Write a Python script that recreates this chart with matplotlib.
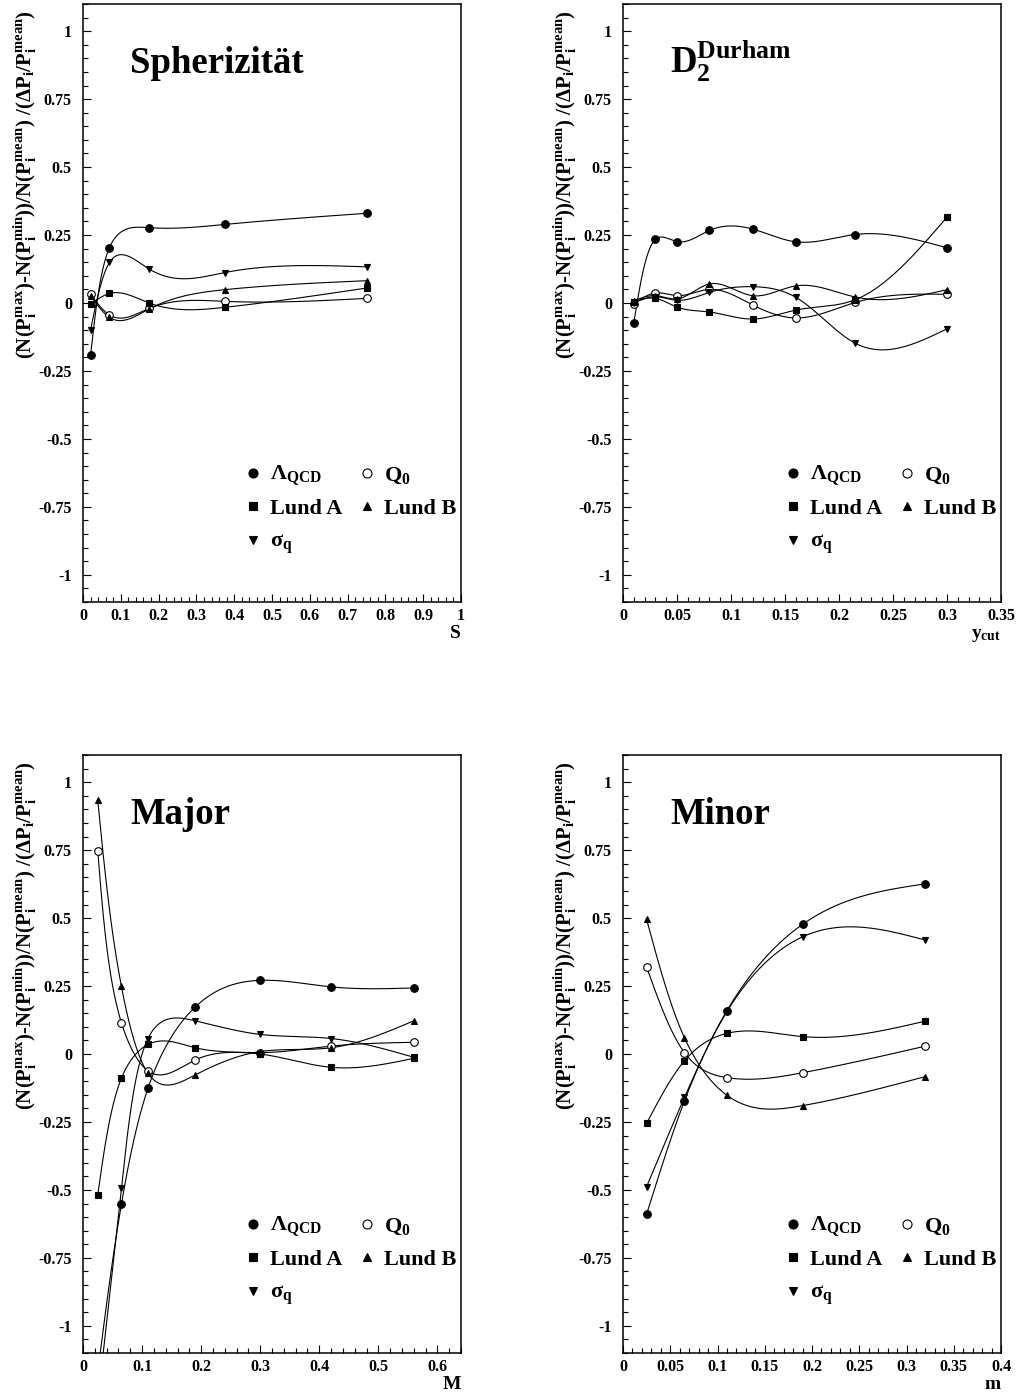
import numpy as np
import matplotlib
matplotlib.use('Agg')
import matplotlib.pyplot as plt
from matplotlib.ticker import MultipleLocator, FuncFormatter

plt.rcParams['font.family'] = ['Liberation Serif', 'DejaVu Serif']
plt.rcParams['font.weight'] = 'bold'
plt.rcParams['axes.labelweight'] = 'bold'
plt.rcParams['mathtext.fontset'] = 'custom'
plt.rcParams['mathtext.rm'] = 'Liberation Serif:bold'
plt.rcParams['mathtext.it'] = 'Liberation Serif:bold'
plt.rcParams['mathtext.bf'] = 'Liberation Serif:bold'

# Spherizitaet
SPH_X = [0.02, 0.07, 0.175, 0.375, 0.75]
SPH_LQCD = [-0.193, 0.204, 0.277, 0.289, 0.330]
SPH_Q0 = [0.032, -0.044, -0.020, 0.006, 0.017]
SPH_LUNDA = [-0.004, 0.035, 0.000, -0.016, 0.055]
SPH_LUNDB = [0.027, -0.053, -0.022, 0.049, 0.082]
SPH_SIGMA = [-0.099, 0.149, 0.125, 0.112, 0.133]

# D2 Durham
DUR_X = [0.01, 0.03, 0.05, 0.08, 0.12, 0.16, 0.215, 0.30]
DUR_LQCD = [-0.073, 0.234, 0.226, 0.267, 0.272, 0.225, 0.252, 0.203]
DUR_Q0 = [-0.004, 0.037, 0.027, 0.050, -0.007, -0.055, 0.002, 0.032]
DUR_LUNDA = [0.005, 0.017, -0.015, -0.033, -0.059, -0.026, 0.012, 0.316]
DUR_LUNDB = [0.008, 0.027, 0.015, 0.070, 0.027, 0.063, 0.022, 0.049]
DUR_SIGMA = [0.000, 0.023, 0.010, 0.039, 0.060, 0.021, -0.148, -0.095]

# Major
MAJ_X = [0.025, 0.065, 0.11, 0.19, 0.30, 0.42, 0.56]
MAJ_LQCD = [-1.17, -0.553, -0.126, 0.173, 0.271, 0.247, 0.243]
MAJ_Q0 = [0.747, 0.115, -0.062, -0.022, 0.005, 0.029, 0.043]
MAJ_LUNDA = [-0.518, -0.089, 0.035, 0.023, 0.000, -0.049, -0.016]
MAJ_LUNDB = [0.933, 0.249, -0.071, -0.077, 0.009, 0.023, 0.122]
MAJ_SIGMA = [-1.28, -0.494, 0.057, 0.122, 0.072, 0.057, -0.012]

# Minor
MIN_X = [0.025, 0.065, 0.11, 0.19, 0.32]
MIN_LQCD = [-0.589, -0.173, 0.160, 0.477, 0.626]
MIN_Q0 = [0.319, 0.005, -0.087, -0.069, 0.029]
MIN_LUNDA = [-0.255, -0.025, 0.076, 0.064, 0.121]
MIN_LUNDB = [0.495, 0.060, -0.152, -0.190, -0.083]
MIN_SIGMA = [-0.488, -0.160, 0.156, 0.431, 0.419]

YLABEL = (r'(N(P$_i^{max}$)-N(P$_i^{min}$))/N(P$_i^{mean}$) '
          r'/($\Delta$P$_i$/P$_i^{mean}$)')

# marker, face colour, size, legend label
STYLES = {
    'lqcd':  ('o', 'black', 5.5, r'$\Lambda_{QCD}$'),
    'q0':    ('o', 'white', 5.5, r'Q$_0$'),
    'lunda': ('s', 'black', 4.5, 'Lund A'),
    'lundb': ('^', 'black', 5.0, 'Lund B'),
    'sigma': ('v', 'black', 5.0, r'$\sigma_q$'),
}
# legend grid: (row, col)
LEGEND_POS = {'lqcd': (0, 0), 'q0': (0, 1), 'lunda': (1, 0),
              'lundb': (1, 1), 'sigma': (2, 0)}

PANELS = [
    dict(title='Spherizität', xlabel='S', xmax=1.0, xmajor=0.1, x=SPH_X,
         series=dict(lqcd=SPH_LQCD, q0=SPH_Q0, lunda=SPH_LUNDA,
                     lundb=SPH_LUNDB, sigma=SPH_SIGMA)),
    dict(title=r'D$_2^{Durham}$', xlabel=r'y$_{cut}$', xmax=0.35, xmajor=0.05, x=DUR_X,
         series=dict(lqcd=DUR_LQCD, q0=DUR_Q0, lunda=DUR_LUNDA,
                     lundb=DUR_LUNDB, sigma=DUR_SIGMA)),
    dict(title='Major', xlabel='M', xmax=0.64, xmajor=0.1, x=MAJ_X,
         series=dict(lqcd=MAJ_LQCD, q0=MAJ_Q0, lunda=MAJ_LUNDA,
                     lundb=MAJ_LUNDB, sigma=MAJ_SIGMA)),
    dict(title='Minor', xlabel='m', xmax=0.4, xmajor=0.05, x=MIN_X,
         series=dict(lqcd=MIN_LQCD, q0=MIN_Q0, lunda=MIN_LUNDA,
                     lundb=MIN_LUNDB, sigma=MIN_SIGMA)),
]


def natural_spline(t, y, ts):
    t = np.asarray(t, float)
    y = np.asarray(y, float)
    n = len(t)
    h = np.diff(t)
    A = np.zeros((n, n))
    b = np.zeros(n)
    A[0, 0] = A[-1, -1] = 1.0
    for i in range(1, n - 1):
        A[i, i - 1] = h[i - 1]
        A[i, i] = 2 * (h[i - 1] + h[i])
        A[i, i + 1] = h[i]
        b[i] = 3 * ((y[i + 1] - y[i]) / h[i] - (y[i] - y[i - 1]) / h[i - 1])
    c = np.linalg.solve(A, b)
    bc = (y[1:] - y[:-1]) / h - h * (2 * c[:-1] + c[1:]) / 3
    d = (c[1:] - c[:-1]) / (3 * h)
    idx = np.clip(np.searchsorted(t, ts) - 1, 0, n - 2)
    dt = ts - t[idx]
    return y[idx] + bc[idx] * dt + c[idx] * dt ** 2 + d[idx] * dt ** 3


def smooth_curve(x, y, sx, sy, ywt=0.3, npts=500):
    # parametric spline; parameter is a chord length with the y steps damped
    x = np.asarray(x, float)
    y = np.asarray(y, float)
    seg = np.hypot(np.diff(x) * sx, np.diff(y) * sy * ywt)
    t = np.concatenate([[0], np.cumsum(seg)])
    ts = np.linspace(0, t[-1], npts)
    return natural_spline(t, x, ts), natural_spline(t, y, ts)


def _fmt(v, _):
    return f'{round(v, 4):g}'


fig = plt.figure(figsize=(10.18, 13.93), dpi=100)
W, H = 1018.0, 1393.0
ax_w, ax_h = 378 / W, 598 / H
lefts = [83 / W, 623 / W]
bottoms = [1 - 602 / H, 1 - 1353 / H]

for k, p in enumerate(PANELS):
    ax = fig.add_axes([lefts[k % 2], bottoms[k // 2], ax_w, ax_h])
    ax.set_xlim(0, p['xmax'])
    ax.set_ylim(-1.1, 1.1)

    sx, sy = 378 / p['xmax'], 598 / 2.2
    for key, ys in p['series'].items():
        marker, face, ms, _ = STYLES[key]
        cx, cy = smooth_curve(p['x'], ys, sx, sy)
        ax.plot(cx, cy, color='black', lw=0.8)
        ax.plot(p['x'], ys, linestyle='none', marker=marker, ms=ms,
                markerfacecolor=face, markeredgecolor='black', mew=0.8, zorder=4)

    # legend, laid out on a 2-column grid
    for key, (row, col) in LEGEND_POS.items():
        marker, face, ms, label = STYLES[key]
        my = 0.2157 - row * 0.056
        mx = 0.450 + col * 0.301
        ax.plot([mx], [my], transform=ax.transAxes, marker=marker, ms=ms + 1,
                markerfacecolor=face, markeredgecolor='black', mew=0.8,
                linestyle='none', clip_on=False)
        ax.text(mx + 0.045, my - 0.0125, label, transform=ax.transAxes,
                fontsize=16, ha='left', va='baseline')

    ax.text(0.125, 0.885, p['title'], transform=ax.transAxes,
            fontsize=26.5, ha='left', va='baseline')

    ax.xaxis.set_major_locator(MultipleLocator(p['xmajor']))
    ax.xaxis.set_minor_locator(MultipleLocator(p['xmajor'] / 5))
    ax.yaxis.set_major_locator(MultipleLocator(0.25))
    ax.yaxis.set_minor_locator(MultipleLocator(0.05))
    ax.xaxis.set_major_formatter(FuncFormatter(_fmt))
    ax.yaxis.set_major_formatter(FuncFormatter(_fmt))
    ax.tick_params(which='both', direction='in', top=False, right=False,
                   labelsize=11.5, width=0.8)
    ax.tick_params(axis='y', which='both', pad=8)
    ax.tick_params(axis='x', which='both', pad=4)
    ax.tick_params(which='major', length=6)
    ax.tick_params(which='minor', length=3.5)
    for spine in ax.spines.values():
        spine.set_linewidth(1.1)

    ax.set_xlabel(p['xlabel'], fontsize=14, fontweight='bold', ha='right', va='baseline')
    ax.xaxis.set_label_coords(1.0, -36 / 598)
    ax.text(-0.153, 0.99, YLABEL, transform=ax.transAxes, rotation=90,
            fontsize=15, ha='center', va='top')

fig.savefig('out.png', dpi=100)
plt.close(fig)
